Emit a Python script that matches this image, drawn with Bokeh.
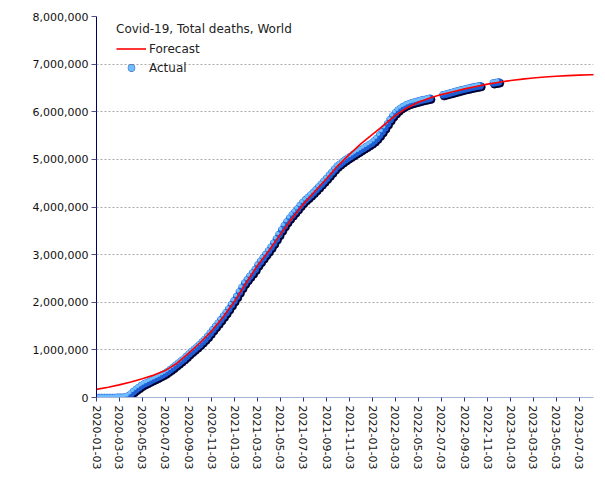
import pandas as pd
from bokeh.plotting import figure
from bokeh.models import (ColumnDataSource, Range1d, FixedTicker, NumeralTickFormatter,
                          DatetimeTickFormatter, Legend, LegendItem)
from bokeh.transform import dodge
from bokeh.embed import file_html
from bokeh.resources import INLINE

# ---------------- data ----------------
legend_title = "Covid-19, Total deaths, World"
forecast_label = "Forecast"
actual_label = "Actual"

x_tick_labels = ["2020-01-03", "2020-03-03", "2020-05-03", "2020-07-03", "2020-09-03",
                 "2020-11-03", "2021-01-03", "2021-03-03", "2021-05-03", "2021-07-03",
                 "2021-09-03", "2021-11-03", "2022-01-03", "2022-03-03", "2022-05-03",
                 "2022-07-03", "2022-09-03", "2022-11-03", "2023-01-03", "2023-03-03",
                 "2023-05-03", "2023-07-03"]
y_ticks = [0, 1000000, 2000000, 3000000, 4000000, 5000000, 6000000, 7000000, 8000000]
x_start, x_end = "2020-01-03", "2023-08-10"

# Actual, weekly, thousands of deaths
actual_start_1 = "2020-01-03"
actual_deaths_1 = [0, 0, 0, 0, 0, 1, 1, 2, 3, 3,
                   5, 12, 30, 75, 125, 170, 210, 250, 282, 310,
                   338, 365, 392, 420, 448, 478, 510, 548, 588, 630,
                   675, 720, 765, 810, 860, 915, 965, 1012, 1060, 1110,
                   1165, 1220, 1280, 1350, 1420, 1490, 1560, 1630, 1705, 1780,
                   1860, 1945, 2030, 2120, 2215, 2310, 2400, 2475, 2545, 2615,
                   2690, 2780, 2855, 2930, 3005, 3075, 3155, 3240, 3330, 3420,
                   3515, 3605, 3690, 3765, 3830, 3895, 3960, 4030, 4095, 4150,
                   4200, 4250, 4305, 4360, 4420, 4480, 4540, 4600, 4665, 4730,
                   4795, 4855, 4900, 4945, 4985, 5025, 5060, 5095, 5130, 5165,
                   5200, 5235, 5270, 5305, 5340, 5385, 5440, 5505, 5580, 5660,
                   5745, 5830, 5910, 5975, 6030, 6075, 6110, 6140, 6165, 6185,
                   6200, 6215, 6230, 6245, 6258, 6270, 6282]
actual_start_2 = "2022-07-08"
actual_deaths_2 = [6355, 6370, 6385, 6400, 6415, 6430, 6445, 6460, 6475, 6488,
                   6500, 6512, 6523, 6534, 6545]
actual_start_3 = "2022-11-18"
actual_deaths_3 = [6605, 6615, 6625]

# Forecast, monthly (3rd of each month), thousands of deaths
forecast_start = "2020-01-03"
forecast_deaths = [170, 215, 265, 325, 395, 470, 565, 720, 930, 1150, 1400, 1690,
                   2030, 2420, 2760, 3080, 3420, 3760, 4060, 4330, 4600, 4870, 5110, 5330,
                   5530, 5730, 5920, 6080, 6200, 6290, 6360, 6420, 6480, 6530, 6580, 6620,
                   6655, 6685, 6710, 6730, 6745, 6758, 6768, 6776, 6782]

# ---------------- sources ----------------
a_dates, a_vals = [], []
for start, vals in [(actual_start_1, actual_deaths_1), (actual_start_2, actual_deaths_2),
                    (actual_start_3, actual_deaths_3)]:
    a_dates += list(pd.date_range(start, periods=len(vals), freq="7D"))
    a_vals += [v * 1000 for v in vals]
actual_src = ColumnDataSource(dict(date=a_dates, deaths=a_vals))

f_dates = pd.date_range(forecast_start, periods=len(forecast_deaths), freq=pd.DateOffset(months=1))
forecast_src = ColumnDataSource(dict(date=list(f_dates), deaths=[v * 1000 for v in forecast_deaths]))

# ---------------- figure ----------------
p = figure(width=597, height=472, output_backend="svg", toolbar_location=None,
           x_axis_type="datetime",
           x_range=Range1d(pd.Timestamp(x_start), pd.Timestamp(x_end)),
           y_range=Range1d(0, 8000000),
           min_border_left=96, min_border_right=4, min_border_top=16, min_border_bottom=75)
p.outline_line_color = None
p.background_fill_color = "white"

FONT = "DejaVu Sans"
day_ms = 86400000.0
px_days = 2.65  # about one screen pixel

shadow = p.scatter(x=dodge("date", 1.2 * px_days * day_ms), y=dodge("deaths", -25000), source=actual_src,
                   size=8, fill_color="#00003a", line_color="#000028", line_width=0.6)
body = p.scatter(x="date", y="deaths", source=actual_src,
                 size=7.5, fill_color="#1f5fd6", line_color=None)
hilite = p.scatter(x=dodge("date", -1.3 * px_days * day_ms), y=dodge("deaths", 28000), source=actual_src,
                   size=3.8, fill_color="#6fbcff", line_color=None)
fline = p.line(x="date", y="deaths", source=forecast_src, line_color="#ff0000", line_width=1.6)

# axes
xt = [pd.Timestamp(s).timestamp() * 1000 for s in x_tick_labels]
p.xaxis.ticker = FixedTicker(ticks=xt)
fmt = "%Y-%m-%d"
p.xaxis.formatter = DatetimeTickFormatter(milliseconds=fmt, seconds=fmt, minsec=fmt, minutes=fmt,
                                          hourmin=fmt, hours=fmt, days=fmt, months=fmt, years=fmt)
p.xaxis.major_label_orientation = "vertical"
p.xaxis.axis_line_color = "#a8b4d4"
p.xaxis.major_tick_line_color = "#2a3a8a"
p.xaxis.major_tick_out = 4
p.xaxis.major_tick_in = 0
p.xaxis.minor_tick_line_color = None
p.xaxis.major_label_standoff = 4

p.yaxis.ticker = FixedTicker(ticks=y_ticks)
p.yaxis.formatter = NumeralTickFormatter(format="0,0")
p.yaxis.axis_line_color = "#000060"
p.yaxis.major_tick_line_color = "#50508a"
p.yaxis.major_tick_out = 5
p.yaxis.major_tick_in = 0
p.yaxis.minor_tick_line_color = None
p.yaxis.major_label_standoff = 3

for ax in (p.xaxis, p.yaxis):
    ax.major_label_text_font = FONT
    ax.major_label_text_font_size = "11px"
    ax.major_label_text_color = "#111111"

p.xgrid.grid_line_color = None
p.ygrid.grid_line_color = "#aaaaaa"
p.ygrid.grid_line_dash = "2 2"
p.ygrid.grid_line_width = 1

legend = Legend(items=[LegendItem(label=forecast_label, renderers=[fline]),
                       LegendItem(label=actual_label, renderers=[shadow, body, hilite])],
                location=(20, 321), title=legend_title)
legend.title_text_font = FONT
legend.title_text_font_size = "12px"
legend.title_text_font_style = "normal"
legend.title_text_color = "#222222"
legend.title_standoff = 4
legend.label_text_font = FONT
legend.label_text_font_size = "12px"
legend.label_text_color = "#222222"
legend.glyph_width = 30
legend.glyph_height = 17
legend.label_height = 17
legend.label_standoff = 3
legend.spacing = 2
legend.padding = 0
legend.margin = 0
legend.background_fill_alpha = 0
legend.border_line_alpha = 0
p.add_layout(legend, "center")

open("out.html", "w").write(file_html(p, INLINE))
